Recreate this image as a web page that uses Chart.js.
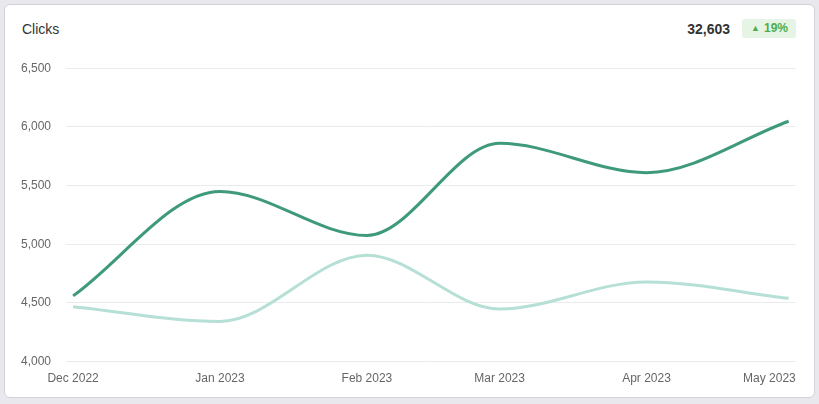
<!DOCTYPE html>
<html>
<head>
<meta charset="utf-8">
<script src="https://cdn.jsdelivr.net/npm/chart.js@4.4.0/dist/chart.umd.min.js"></script>
<style>
  html, body { margin: 0; padding: 0; }
  body { width: 819px; height: 404px; background: #e8e8ed; font-family: "Liberation Sans", Arial, sans-serif; position: relative; overflow: hidden; }
  .card { position: absolute; left: 4px; top: 4px; width: 809px; height: 392px; background: #fff; border: 1px solid #d2d2da; border-radius: 6px; }
  .title { position: absolute; left: 17px; top: 16px; font-size: 14px; color: #333; }
  .total { position: absolute; right: 84px; top: 16px; font-size: 14px; font-weight: bold; color: #333; }
  .badge { position: absolute; right: 18px; top: 14px; height: 19px; line-height: 19px; padding: 0 8px 0 9px; background: #e6f4e6; color: #4cae4c; font-size: 12px; font-weight: bold; border-radius: 3px; }
  .badge .arr { font-size: 9px; vertical-align: 1px; margin-right: 4px; }
  .wrap { position: absolute; left: 10px; top: 46px; width: 815px; height: 350px; }
</style>
</head>
<body>
<div class="card">
  <div class="title">Clicks</div>
  <div class="total" id="total"></div>
  <div class="badge"><span class="arr">&#9650;</span><span id="pct"></span></div>
</div>
<div class="wrap"><canvas id="clicksChart"></canvas></div>
<script>
// data
var months = ['2022-12-01', '2023-01-01', '2023-02-01', '2023-03-01', '2023-04-01', '2023-05-01'];
var monthLabels = ['Dec 2022', 'Jan 2023', 'Feb 2023', 'Mar 2023', 'Apr 2023', 'May 2023'];
var clicks = [4560, 5450, 5075, 5860, 5610, 6048];
var prevClicks = [4468, 4342, 4907, 4448, 4679, 4539];
var yMin = 4000, yMax = 6500, yStep = 500;

var dayMs = 86400000;
var start = Date.parse(months[0]);
var days = months.map(function (m) { return (Date.parse(m) - start) / dayMs; });

function sum(a) { return a.reduce(function (s, v) { return s + v; }, 0); }
var total = sum(clicks);
document.getElementById('total').textContent = total.toLocaleString('en-US');
document.getElementById('pct').textContent = Math.round((total / sum(prevClicks) - 1) * 100) + '%';

function toPoints(vals) {
    return vals.map(function (v, i) { return { x: days[i], y: v }; });
}

// keep the last month label inside the plot, like the original
var lastLabelInside = {
    id: 'lastLabelInside',
    beforeDraw: function (chart) {
        var s = chart.scales.x;
        var items = s.getLabelItems();
        var it = items[items.length - 1];
        if (it) {
            it.options.translation[0] = s.right;
            it.options.textAlign = 'right';
        }
    }
};

var ctx = document.getElementById('clicksChart');
var myChart = new Chart(ctx, {
    type: 'line',
    data: {
        datasets: [
            {
                label: 'Clicks',
                data: toPoints(clicks),
                borderColor: '#3f9a7d',
                borderWidth: 3,
                pointRadius: 0,
                cubicInterpolationMode: 'monotone'
            },
            {
                label: 'Previous period',
                data: toPoints(prevClicks),
                borderColor: '#b6dfd6',
                borderWidth: 3,
                pointRadius: 0,
                cubicInterpolationMode: 'monotone'
            }
        ]
    },
    options: {
        responsive: true,
        maintainAspectRatio: false,
        animation: false,
        layout: { padding: { top: 10 } },
        plugins: {
            legend: { display: false },
            tooltip: { enabled: false }
        },
        scales: {
            x: {
                type: 'linear',
                min: days[0] - 1.5,
                max: days[days.length - 1] + 1.5,
                afterBuildTicks: function (scale) {
                    scale.ticks = days.map(function (d) { return { value: d }; });
                },
                ticks: {
                    autoSkip: false,
                    maxRotation: 0,
                    padding: 10,
                    color: '#666',
                    font: { family: 'Liberation Sans', size: 12 },
                    callback: function (v, i) { return monthLabels[i]; }
                },
                grid: { display: false, drawTicks: false },
                border: { display: false }
            },
            y: {
                min: yMin,
                max: yMax,
                afterFit: function (scale) { scale.width = 56; },
                ticks: {
                    stepSize: yStep,
                    padding: 15,
                    color: '#666',
                    font: { family: 'Liberation Sans', size: 12 },
                    callback: function (v) { return v.toLocaleString('en-US'); }
                },
                grid: { color: '#ebebeb', drawTicks: false },
                border: { display: false }
            }
        }
    },
    plugins: [lastLabelInside]
});
</script>
</body>
</html>
